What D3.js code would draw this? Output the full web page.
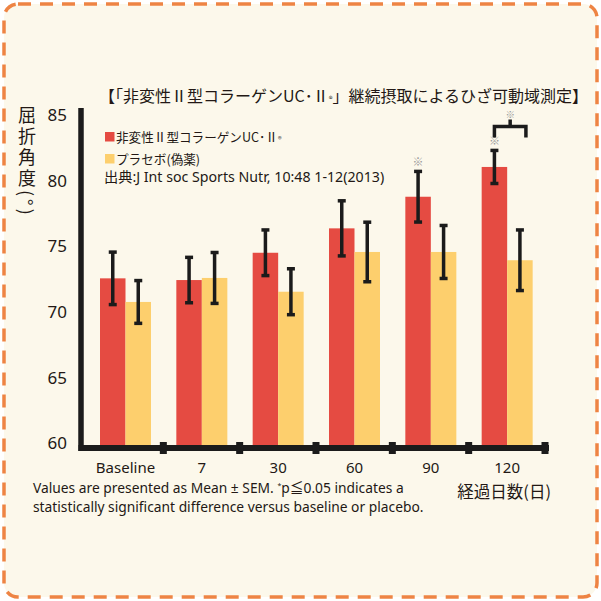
<!DOCTYPE html>
<html>
<head>
<meta charset="utf-8">
<script src="https://cdn.jsdelivr.net/npm/d3@7"></script>
<style>
  body { margin: 0; background: #fff; }
  svg { display: block; }
  text { fill: #231815; font-family: "Noto Sans", "Noto Sans CJK JP", sans-serif; }
  .jp { font-family: "Noto Sans CJK JP", sans-serif; }
</style>
</head>
<body>
<div id="chart"></div>
<script>
// days on the x axis
const categories = ["Baseline", "7", "30", "60", "90", "120"];
const seriesKeys = ["ucii", "placebo"];
const seriesLabels = ["非変性Ⅱ型コラーゲンUC･Ⅱ", "プラセボ(偽薬)"];
// mean knee flexion angle (deg) and SEM
const uciiMean = [72.55, 72.42, 74.5, 76.36, 78.77, 81.04];
const uciiSem = [2.0, 1.73, 1.74, 2.1, 1.93, 1.26];
const placeboMean = [70.75, 72.58, 71.53, 74.56, 74.56, 73.93];
const placeboSem = [1.63, 1.94, 1.75, 2.27, 2.02, 2.31];
const uciiSignificant = ["90", "120"];   // ※ vs baseline
const bracketAt = "120";                 // ※ vs placebo
const yTicks = [60, 65, 70, 75, 80, 85];

const W = 601, H = 601;
const color = d3.scaleOrdinal().domain(seriesKeys).range(["#e54b42", "#fdcf6d"]);

const svg = d3.select("#chart").append("svg")
  .attr("width", W)
  .attr("height", H);

// card background with dashed orange border
svg.append("rect")
  .attr("x", 4).attr("y", 4)
  .attr("width", 593).attr("height", 593)
  .attr("rx", 14)
  .attr("fill", "#fcf8eb")
  .attr("stroke", "#ee8444")
  .attr("stroke-width", 3.5)
  .attr("stroke-dasharray", "13 9");

const x0 = d3.scaleBand().domain(categories).range([87, 545]).padding(0);
const x1 = d3.scaleBand().domain(seriesKeys).range([0, 51]);
const groupOffset = 13;
const y = d3.scaleLinear().domain([60, 85]).range([443, 115]);
const axisY = y(60) + 5;

const data = categories.map((c, i) => ({
  cat: c,
  values: [
    { key: "ucii", mean: uciiMean[i], sem: uciiSem[i] },
    { key: "placebo", mean: placeboMean[i], sem: placeboSem[i] }
  ]
}));

// title
const title = svg.append("text")
  .attr("class", "jp")
  .attr("x", 99).attr("y", 102)
  .attr("font-size", 16);
title.append("tspan").text("【「非変性Ⅱ型コラーゲンUC･Ⅱ");
title.append("tspan").attr("font-size", 8).text("®");
title.append("tspan").text("」継続摂取によるひざ可動域測定】");

// bars
const groups = svg.selectAll("g.group")
  .data(data)
  .join("g")
  .attr("class", "group")
  .attr("transform", d => `translate(${x0(d.cat) + groupOffset},0)`);

groups.selectAll("rect")
  .data(d => d.values)
  .join("rect")
  .attr("x", d => x1(d.key))
  .attr("y", d => y(d.mean))
  .attr("width", x1.bandwidth())
  .attr("height", d => axisY - y(d.mean))
  .attr("fill", d => color(d.key));

// error bars
const err = groups.selectAll("g.err")
  .data(d => d.values)
  .join("g")
  .attr("class", "err")
  .attr("transform", d => `translate(${x1(d.key) + x1.bandwidth() / 2},0)`)
  .attr("stroke", "#1b1b1b");

err.append("line")
  .attr("y1", d => y(d.mean + d.sem))
  .attr("y2", d => y(d.mean - d.sem))
  .attr("stroke-width", 3.5);
err.append("line")
  .attr("x1", -4).attr("x2", 4)
  .attr("y1", d => y(d.mean + d.sem)).attr("y2", d => y(d.mean + d.sem))
  .attr("stroke-width", 3.5);
err.append("line")
  .attr("x1", -4).attr("x2", 4)
  .attr("y1", d => y(d.mean - d.sem)).attr("y2", d => y(d.mean - d.sem))
  .attr("stroke-width", 3.5);

// significance marks over UC-II bars
const markColor = "#9a9a9a";
svg.selectAll("text.sig")
  .data(data.filter(d => uciiSignificant.includes(d.cat)))
  .join("text")
  .attr("class", "sig jp")
  .attr("x", d => x0(d.cat) + groupOffset + x1("ucii") + x1.bandwidth() / 2)
  .attr("y", d => y(d.values[0].mean + d.values[0].sem) - 5)
  .attr("text-anchor", "middle")
  .attr("font-size", 11)
  .style("fill", markColor)
  .text("※");

// bracket vs placebo
const bd = data.find(d => d.cat === bracketAt);
const bl = x0(bd.cat) + groupOffset + x1("ucii") + x1.bandwidth() / 2;
const br = x0(bd.cat) + groupOffset + x1("placebo") + x1.bandwidth() / 2 + 6;
const bTop = y(d3.max(bd.values, v => v.mean + v.sem)) - 24;
svg.append("path")
  .attr("d", `M${bl},${bTop + 11}V${bTop}H${br}V${bTop + 11}M${(bl + br) / 2},${bTop}V${bTop - 7}`)
  .attr("fill", "none")
  .attr("stroke", "#1b1b1b")
  .attr("stroke-width", 3.5);
svg.append("text")
  .attr("class", "jp")
  .attr("x", (bl + br) / 2)
  .attr("y", bTop - 8)
  .attr("text-anchor", "middle")
  .attr("font-size", 9.5)
  .style("fill", markColor)
  .text("※");

// axes
svg.append("line")
  .attr("x1", 81).attr("x2", 81)
  .attr("y1", 108).attr("y2", axisY + 3)
  .attr("stroke", "#1b1b1b").attr("stroke-width", 5.5);
svg.append("line")
  .attr("x1", 78.5).attr("x2", 549)
  .attr("y1", axisY).attr("y2", axisY)
  .attr("stroke", "#1b1b1b").attr("stroke-width", 6);
svg.selectAll("rect.tick")
  .data(categories)
  .join("rect")
  .attr("class", "tick")
  .attr("x", d => x0(d) + x0.bandwidth() - 3.5)
  .attr("y", axisY - 6)
  .attr("width", 7).attr("height", 12)
  .attr("fill", "#1b1b1b");

svg.selectAll("text.ytick")
  .data(yTicks)
  .join("text")
  .attr("class", "ytick")
  .attr("x", 67)
  .attr("y", d => y(d))
  .attr("dy", "0.36em")
  .attr("text-anchor", "end")
  .attr("font-size", 17)
  .text(d => d);

svg.selectAll("text.xtick")
  .data(categories)
  .join("text")
  .attr("class", "xtick")
  .attr("x", d => x0(d) + groupOffset + 25.5)
  .attr("y", 473)
  .attr("text-anchor", "middle")
  .attr("font-size", 15)
  .text(d => d);

// y axis title, written vertically
svg.append("text")
  .attr("class", "jp")
  .attr("x", 27).attr("y", 106)
  .attr("font-size", 18)
  .attr("letter-spacing", 3)
  .style("writing-mode", "vertical-rl")
  .text("屈折角度(°)");

// x axis title
svg.append("text")
  .attr("class", "jp")
  .attr("x", 551).attr("y", 498)
  .attr("text-anchor", "end")
  .attr("font-size", 16.5)
  .text("経過日数(日)");

// legend
const legend = svg.selectAll("g.legend")
  .data(seriesKeys)
  .join("g")
  .attr("class", "legend")
  .attr("transform", (d, i) => `translate(105,${132 + i * 22})`);
legend.append("rect")
  .attr("width", 9.5).attr("height", 9.5)
  .attr("fill", d => color(d));
const lt = legend.append("text")
  .attr("class", "jp")
  .attr("x", 11).attr("y", 9.5)
  .attr("font-size", 12.6)
  .text((d, i) => seriesLabels[i]);
lt.filter(d => d === "ucii").append("tspan").attr("font-size", 7.5).text("®");

svg.append("text")
  .attr("x", 104).attr("y", 182)
  .attr("font-size", 14.2)
  .text("出典:J Int soc Sports Nutr, 10:48 1-12(2013)");

// footnote
const note = svg.append("text").attr("font-size", 13.8);
const n1 = note.append("tspan").attr("x", 33).attr("y", 493);
n1.append("tspan").text("Values are presented as Mean ± SEM. ");
n1.append("tspan").attr("font-size", 7).attr("dy", -5).text("*");
n1.append("tspan").attr("dy", 5).text("p≦0.05 indicates a");
note.append("tspan").attr("x", 33).attr("y", 512)
  .text("statistically significant difference versus baseline or placebo.");
</script>
</body>
</html>
